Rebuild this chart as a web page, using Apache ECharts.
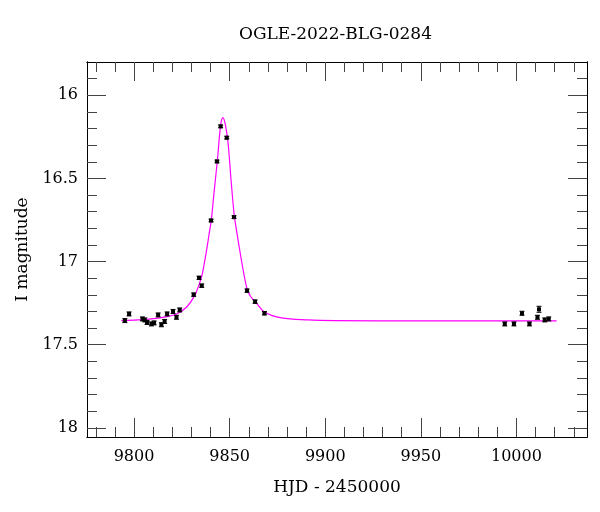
<!DOCTYPE html>
<html>
<head>
<meta charset="utf-8">
<script src="https://cdn.jsdelivr.net/npm/echarts@6/dist/echarts.min.js"></script>
<style>html,body{margin:0;padding:0;background:#fff}#c{width:600px;height:512px}</style>
</head>
<body>
<div id="c"></div>
<script>
// Observations
const obsT = [9795.2, 9797.4, 9804.4, 9805.6, 9806.8, 9809.1, 9810.5, 9812.6, 9814.3, 9816.0, 9817.3, 9820.4, 9822.2, 9823.9, 9831.2, 9834.0, 9835.4, 9840.3, 9843.4, 9845.3, 9848.5, 9852.3, 9859.1, 9863.3, 9868.2, 9993.9, 9998.7, 10002.9, 10006.8, 10011.0, 10011.8, 10014.8, 10016.9];
const obsMag = [17.355, 17.315, 17.345, 17.351, 17.366, 17.375, 17.369, 17.321, 17.380, 17.360, 17.315, 17.300, 17.335, 17.291, 17.199, 17.098, 17.145, 16.753, 16.398, 16.187, 16.255, 16.733, 17.175, 17.241, 17.311, 17.375, 17.375, 17.311, 17.375, 17.335, 17.287, 17.351, 17.345];
const obsErr = [0.012, 0.012, 0.012, 0.012, 0.012, 0.012, 0.012, 0.012, 0.012, 0.012, 0.012, 0.012, 0.012, 0.012, 0.010, 0.010, 0.010, 0.008, 0.008, 0.008, 0.008, 0.008, 0.010, 0.010, 0.010, 0.012, 0.012, 0.012, 0.012, 0.012, 0.018, 0.012, 0.012];

// Model curve
const modelT = [9793.4, 9804.7, 9813.4, 9822.2, 9827.4, 9831.7, 9834.4, 9835.6, 9837.9, 9839.6, 9840.4, 9841.8, 9843.6, 9845.3, 9846.5, 9847.8, 9849.2, 9850.6, 9852.3, 9853.6, 9856.2, 9859.1, 9861.0, 9864.0, 9868.4, 9877.1, 9891.0, 9905.0, 9950.0, 10021.0];
const modelMag = [17.355, 17.349, 17.339, 17.315, 17.275, 17.205, 17.125, 17.080, 16.934, 16.810, 16.753, 16.590, 16.390, 16.180, 16.134, 16.180, 16.290, 16.490, 16.710, 16.813, 16.994, 17.165, 17.210, 17.250, 17.305, 17.339, 17.351, 17.355, 17.357, 17.357];

// Ticks
const xMajor = [9800, 9850, 9900, 9950, 10000];
const xMinor = [9780, 9790, 9810, 9820, 9830, 9840, 9860, 9870, 9880, 9890, 9910, 9920, 9930, 9940, 9960, 9970, 9980, 9990, 10010, 10020, 10030];
const yMajor = [16, 16.5, 17, 17.5, 18];
const yMinor = [15.9, 16.1, 16.2, 16.3, 16.4, 16.6, 16.7, 16.8, 16.9, 17.1, 17.2, 17.3, 17.4, 17.6, 17.7, 17.8, 17.9];

const FONT = 'DejaVu Serif';
const X_MIN = 9775.4, X_MAX = 10036.9, Y_MIN = 15.8, Y_MAX = 18.055;

function xAx(pos, vals, len, labels) {
  return {
    type: 'value', position: pos, min: X_MIN, max: X_MAX,
    name: labels ? 'HJD - 2450000' : '',
    nameLocation: 'middle', nameGap: 42,
    nameTextStyle: {fontFamily: FONT, fontSize: 17, color: '#000'},
    axisLine: {show: true, onZero: false, lineStyle: {color: '#000', width: 1}},
    splitLine: {show: false},
    axisTick: {show: true, inside: true, length: len, customValues: vals, lineStyle: {color: '#444', width: 1}},
    axisLabel: labels ? {show: true, customValues: vals, margin: 12, fontFamily: FONT, fontSize: 16, color: '#000', formatter: v => String(v)} : {show: false}
  };
}
function yAx(pos, vals, len, labels) {
  return {
    type: 'value', position: pos, min: Y_MIN, max: Y_MAX, inverse: true,
    name: labels ? 'I magnitude' : '',
    nameLocation: 'middle', nameGap: 56,
    nameTextStyle: {fontFamily: FONT, fontSize: 17, color: '#000'},
    axisLine: {show: true, onZero: false, lineStyle: {color: '#000', width: 1}},
    splitLine: {show: false},
    axisTick: {show: true, inside: true, length: len, customValues: vals, lineStyle: {color: '#444', width: 1}},
    axisLabel: labels ? {show: true, customValues: vals, margin: 9, fontFamily: FONT, fontSize: 16, color: '#000', formatter: v => String(v)} : {show: false}
  };
}

const obsData = obsT.map((t, i) => [t, obsMag[i], obsErr[i]]);
const modelData = modelT.map((t, i) => [t, modelMag[i]]);

const chart = echarts.init(document.getElementById('c'), null, {renderer: 'canvas'});
chart.setOption({
  animation: false,
  backgroundColor: '#fff',
  title: {text: 'OGLE-2022-BLG-0284', left: 234, top: 21,
    textStyle: {fontFamily: FONT, fontSize: 17, fontWeight: 'normal', color: '#000'}},
  grid: {left: 87, right: 13, top: 62, bottom: 75, containLabel: false},
  xAxis: [xAx('bottom', xMajor, 19, true), xAx('bottom', xMinor, 10, false), xAx('top', xMajor, 19, false), xAx('top', xMinor, 10, false)],
  yAxis: [yAx('left', yMajor, 19, true), yAx('left', yMinor, 10, false), yAx('right', yMajor, 19, false), yAx('right', yMinor, 10, false)],
  series: [
    {type: 'line', data: modelData, xAxisIndex: 0, yAxisIndex: 0, showSymbol: false, smooth: 0.35,
      lineStyle: {color: '#ff00ff', width: 1.2}, z: 2, clip: true},
    {type: 'custom', data: obsData, xAxisIndex: 0, yAxisIndex: 0, z: 3, clip: true,
      encode: {x: 0, y: 1},
      renderItem: function (params, api) {
        const p = api.coord([api.value(0), api.value(1)]);
        const hi = api.coord([api.value(0), api.value(1) - api.value(2)]);
        const lo = api.coord([api.value(0), api.value(1) + api.value(2)]);
        const s = {stroke: '#000', lineWidth: 1};
        return {type: 'group', children: [
          {type: 'line', shape: {x1: p[0], y1: hi[1], x2: p[0], y2: lo[1]}, style: s},
          {type: 'line', shape: {x1: p[0] - 2.5, y1: hi[1], x2: p[0] + 2.5, y2: hi[1]}, style: s},
          {type: 'line', shape: {x1: p[0] - 2.5, y1: lo[1], x2: p[0] + 2.5, y2: lo[1]}, style: s},
          {type: 'rect', shape: {x: p[0] - 2, y: p[1] - 2, width: 4, height: 4}, style: {fill: '#000'}}
        ]};
      }
    }
  ]
});
</script>
</body>
</html>
